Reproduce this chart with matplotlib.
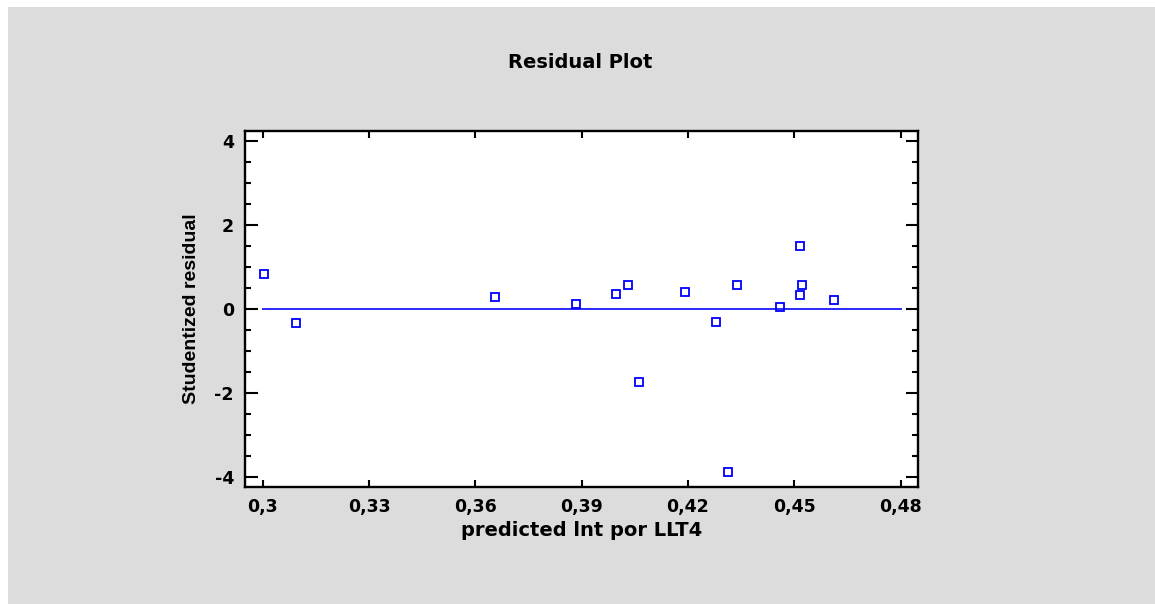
import matplotlib
matplotlib.use("Agg")
import matplotlib.pyplot as plt
from matplotlib.patches import Rectangle
from matplotlib.ticker import FixedLocator, MultipleLocator

# ---- data ----
predicted = [0.3005, 0.3095, 0.3656, 0.3884, 0.3996, 0.4031, 0.4062, 0.4192,
             0.4278, 0.4314, 0.4337, 0.4460, 0.4515, 0.4516, 0.4521, 0.4612]
residual = [0.83, -0.33, 0.29, 0.11, 0.36, 0.58, -1.74, 0.40,
            -0.32, -3.87, 0.58, 0.04, 1.51, 0.33, 0.58, 0.22]
x_ticks = [0.30, 0.33, 0.36, 0.39, 0.42, 0.45, 0.48]
x_tick_labels = ["0,3", "0,33", "0,36", "0,39", "0,42", "0,45", "0,48"]
y_ticks = [-4, -2, 0, 2, 4]
y_tick_labels = ["-4", "-2", "0", "2", "4"]
zero_line_x = [0.30, 0.48]
zero_line_y = [0, 0]

title = "Residual Plot"
x_label = "predicted lnt por LLT4"
y_label = "Studentized residual"

W, H = 1155, 604
fig = plt.figure(figsize=(W / 100, H / 100), dpi=100, facecolor="white")
fig.patches.append(Rectangle((8 / W, 0), 1 - 8 / W, 1 - 7 / H,
                             transform=fig.transFigure, facecolor="#dcdcdc",
                             edgecolor="none", zorder=-10))

ax = fig.add_axes([245 / W, (H - 486.7) / H, (918.3 - 245) / W, (486.7 - 131) / H])
ax.set_facecolor("white")

blue = "#0000ff"
ax.plot(zero_line_x, zero_line_y, color="#2a2aff", lw=1.4, zorder=2)
ax.plot(predicted, residual, linestyle="none", marker="s", markersize=5.6,
        markerfacecolor="none", markeredgecolor=blue, markeredgewidth=1.3, zorder=3)

ax.set_xlim(0.295, 0.485)
ax.set_ylim(-4.23, 4.24)

ax.xaxis.set_major_locator(FixedLocator(x_ticks))
ax.set_xticklabels(x_tick_labels)
ax.yaxis.set_major_locator(FixedLocator(y_ticks))
ax.set_yticklabels(y_tick_labels)
ax.yaxis.set_minor_locator(MultipleLocator(0.5))

for s in ax.spines.values():
    s.set_linewidth(1.7)
    s.set_color("black")

ax.tick_params(axis="x", which="major", direction="in", length=5, width=1.5,
               top=True, bottom=True, pad=8, labelsize=12.5)
ax.tick_params(axis="y", which="major", direction="in", length=9, width=1.5,
               left=True, right=True, pad=8, labelsize=12.5)
ax.tick_params(axis="y", which="minor", direction="in", length=4.2, width=1.5,
               left=True, right=True)

for lab in ax.get_xticklabels() + ax.get_yticklabels():
    lab.set_fontweight("bold")
    lab.set_family("DejaVu Sans")

ax.set_xlabel(x_label, fontsize=14, fontweight="bold", family="DejaVu Sans", labelpad=4)
ax.set_ylabel(y_label, fontsize=14, fontweight="bold", family="Liberation Sans", labelpad=10)
fig.text(580 / W, 1 - 63 / H, title, ha="center", va="center",
         fontsize=14, fontweight="bold", family="DejaVu Sans")

fig.savefig("out.png", dpi=100, facecolor=fig.get_facecolor())
